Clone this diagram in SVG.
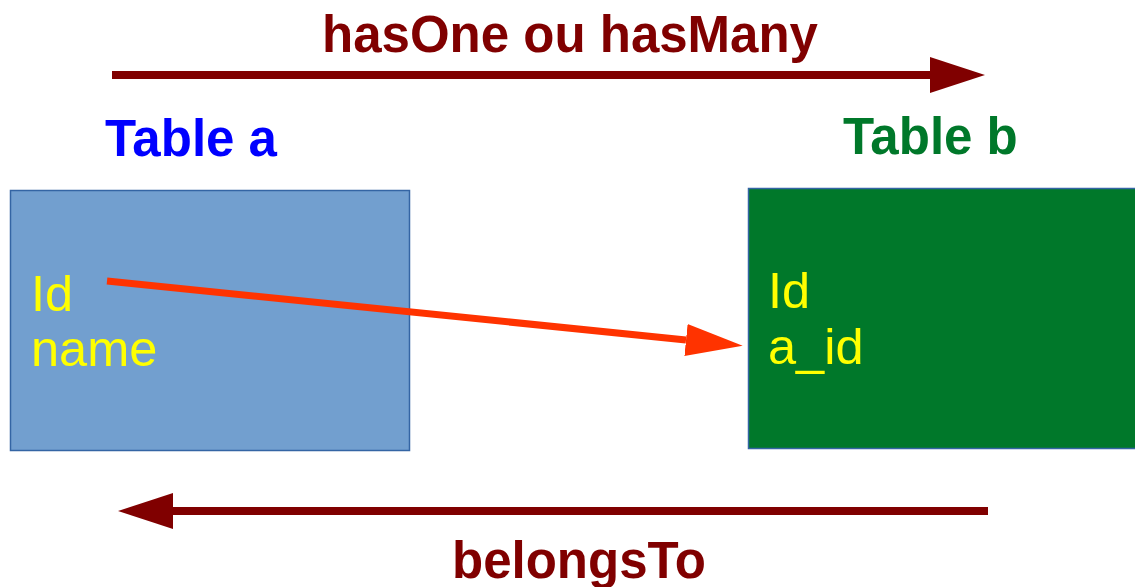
<svg xmlns="http://www.w3.org/2000/svg" width="1135" height="587" viewBox="0 0 1135 587">
<style>
.lbl{font-family:"Liberation Sans",Arial,sans-serif;font-weight:bold;font-size:51px}
.fld{font-family:"Liberation Sans",Arial,sans-serif;font-size:50.5px;fill:#ffff00}
.rel{stroke:#800000;stroke-width:8;fill:none}
</style>
<defs>
<marker id="dr" markerUnits="userSpaceOnUse" markerWidth="60" markerHeight="40" refX="0" refY="18" orient="auto">
<path d="M0,0 L55,18 L0,36 Z" fill="#800000"/>
</marker>
<marker id="rd" markerUnits="userSpaceOnUse" markerWidth="60" markerHeight="40" refX="0" refY="16" orient="auto">
<path d="M0,0 L57,16 L0,32 Z" fill="#ff3300"/>
</marker>
</defs>
<rect width="1135" height="587" fill="#ffffff"/>
<g id="tableA">
<text class="lbl" x="105" y="156" fill="#0000ff">Table a</text>
<rect x="10.5" y="190.5" width="399" height="260" fill="#729fcf" stroke="#3465a4" stroke-width="1.5"/>
<text class="fld" x="31" y="311">Id</text>
<text class="fld" x="31" y="366">name</text>
</g>
<g id="tableB">
<text class="lbl" x="843" y="154" fill="#00782a">Table b</text>
<rect x="748.5" y="188.5" width="400" height="260" fill="#00782a" stroke="#3465a4" stroke-width="1.5"/>
<text class="fld" x="768" y="308">Id</text>
<text class="fld" x="768" y="364">a_id</text>
</g>
<g id="connectors">
<line class="rel" x1="112" y1="75" x2="930" y2="75" marker-end="url(#dr)"/>
<text class="lbl" x="570" y="52" fill="#800000" text-anchor="middle">hasOne ou hasMany</text>
<line class="rel" x1="988" y1="511" x2="173" y2="511" marker-end="url(#dr)"/>
<text class="lbl" x="579" y="578" fill="#800000" text-anchor="middle">belongsTo</text>
<line x1="107" y1="281" x2="686" y2="340" stroke="#ff3300" stroke-width="7" marker-end="url(#rd)"/>
</g>
</svg>
